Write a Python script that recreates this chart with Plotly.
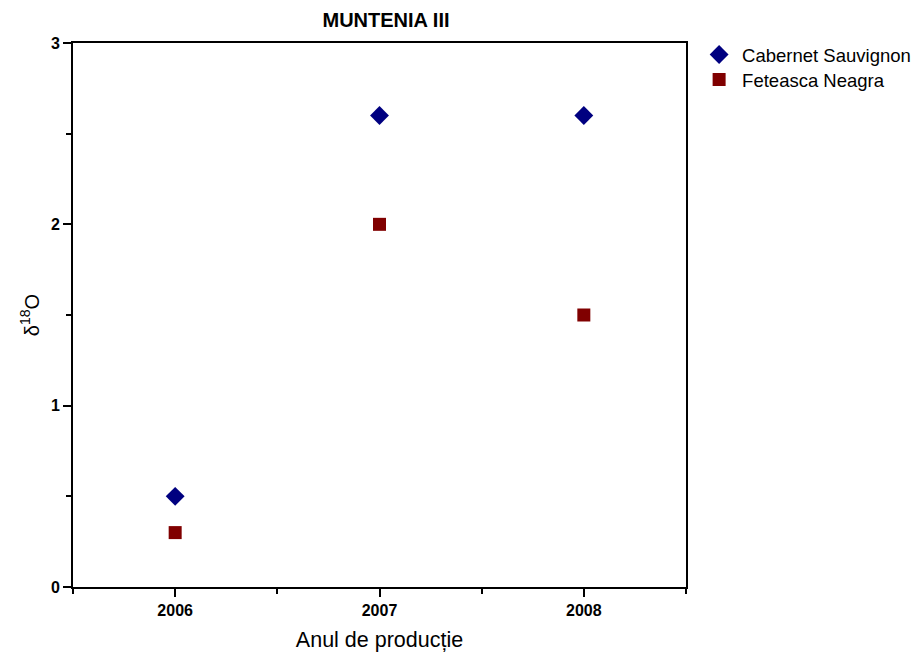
import plotly.graph_objects as go

years = [2006, 2007, 2008]
cabernet = [0.5, 2.6, 2.6]
feteasca = [0.3, 2.0, 1.5]
x_ticks = [2006, 2007, 2008]
y_ticks = [0, 1, 2, 3]

fig = go.Figure()
fig.add_trace(go.Scatter(x=years, y=cabernet, mode="markers", name="Cabernet Sauvignon",
                         marker=dict(symbol="diamond", size=14.5, color="#000080"), legend="legend"))
fig.add_trace(go.Scatter(x=years, y=feteasca, mode="markers", name="Feteasca Neagra",
                         marker=dict(symbol="square", size=13, color="#800000"), legend="legend2"))

leg_common = dict(xanchor="left", yanchor="middle", font=dict(size=18.5),
                  bgcolor="rgba(0,0,0,0)", itemwidth=36, itemsizing="trace")

fig.update_layout(
    width=912, height=645,
    margin=dict(l=65, r=234, t=35, b=66, autoexpand=False),
    paper_bgcolor="white", plot_bgcolor="white",
    font=dict(family="Liberation Sans, Arial, sans-serif", color="black"),
    title=dict(text="<b>MUNTENIA III</b>", x=(386 - 8) / 912, xanchor="center", y=1 - 12 / 645, yanchor="middle",
               font=dict(size=20)),
    legend=dict(x=1.0165, y=(587 - 55) / 544, **leg_common),
    legend2=dict(x=1.0165, y=(587 - 80) / 544, **leg_common),
    showlegend=True,
)
fig.update_xaxes(range=[2005.5, 2008.5], tickvals=x_ticks, ticktext=[f"<b>{v}</b>" for v in x_ticks],
                 ticks="outside", ticklen=8, tickwidth=1.5, tickcolor="black", automargin=False,
                 minor=dict(tickvals=[2005.5, 2006.5, 2007.5, 2008.5], ticks="outside", ticklen=5, tickwidth=1.5, tickcolor="black"),
                 showline=True, linewidth=2, linecolor="black", mirror=True, showgrid=False, zeroline=False,
                 tickfont=dict(size=16), title=dict(text="Anul de producție", font=dict(size=21.5), standoff=14))
fig.update_yaxes(range=[0, 3], tickvals=y_ticks, ticktext=[f"<b>{v}</b>" for v in y_ticks],
                 ticks="outside", ticklen=8, tickwidth=1.5, tickcolor="black", automargin=False,
                 minor=dict(tickvals=[0.5, 1.5, 2.5], ticks="outside", ticklen=5, tickwidth=1.5, tickcolor="black"),
                 showline=True, linewidth=2, linecolor="black", mirror=True, showgrid=False, zeroline=False,
                 tickfont=dict(size=16), title=dict(text="δ<sup>18</sup>O", font=dict(size=20), standoff=6))

fig.write_html("out.html")
